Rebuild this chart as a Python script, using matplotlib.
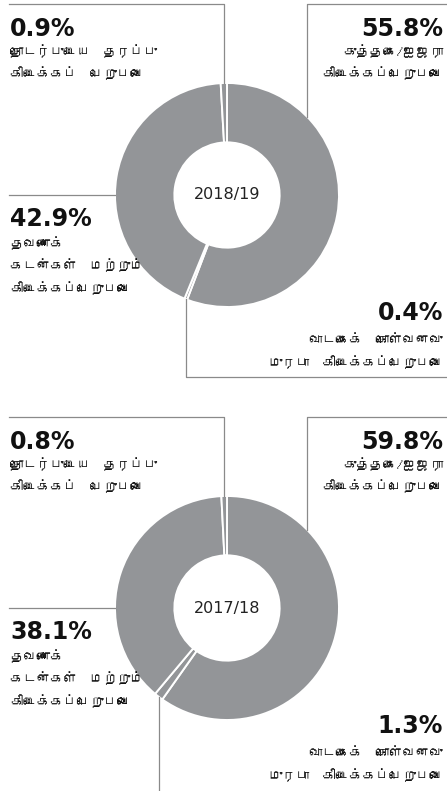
import numpy as np
import matplotlib
matplotlib.use("Agg")
import matplotlib.pyplot as plt
from matplotlib import font_manager
from matplotlib.ft2font import FT2Font

# financing receivables split, two years
years = ["2018/19", "2017/18"]
shares_1819 = [55.8, 0.4, 42.9, 0.9]
shares_1718 = [59.8, 1.3, 38.1, 0.8]
labels = [
    "குத்தகை/ஐஜரா\nகிடைக்கப்பெறுபவை",
    "வாடகைக்  கொள்வனவு\nமுரபா  கிடைக்கப்பெறுபவை",
    "தவணைக்\nகடன்கள்  மற்றும்\nகிடைக்கப்பெறுபவை",
    "தொடர்புடைய  தரப்பு\nகிடைக்கப்  பெறுபவை",
]

# pick any installed face that covers Tamil
tamil_family = None
for f in font_manager.fontManager.ttflist:
    try:
        if 0x0BA4 in FT2Font(f.fname).get_charmap():
            tamil_family = f.name
            break
    except Exception:
        pass
text_family = [tamil_family, "DejaVu Sans"] if tamil_family else ["DejaVu Sans"]

W, H = 447, 791
GREY = "#939598"
LINE = "#8a8a8a"

fig = plt.figure(figsize=(W / 100, H / 100), dpi=100)
ax = fig.add_axes([0, 0, 1, 1])


def Y(y):
    return H - y


def draw_chart(shares, year, dy, bottom_y, bottom_rule):
    cx, cy, r = 227, 195 + dy, 112
    ax.pie(shares, center=(cx, Y(cy)), radius=r, startangle=90,
           counterclock=False, colors=[GREY] * len(shares),
           wedgeprops=dict(width=r * 0.53, edgecolor="white", linewidth=1.4))
    ax.text(cx, Y(cy), year, ha="center", va="center", fontsize=11.5,
            family="DejaVu Sans", color="#222222")

    cum = np.cumsum([0] + shares[:-1])
    mids = np.radians(90 - 3.6 * (cum + np.array(shares) / 2))
    top = 4 + dy
    lw = 0.9

    # big right wedge: rule along the top, drop to the ring
    xr = 307
    yr = cy - np.sqrt(r ** 2 - (xr - cx) ** 2)
    ax.plot([W, xr, xr], [Y(top), Y(top), Y(yr)], color=LINE, lw=lw)
    # small top wedge
    xt = cx + r * np.cos(mids[3])
    yt = cy - r * np.sin(mids[3])
    ax.plot([9, xt, xt], [Y(top), Y(top), Y(yt)], color=LINE, lw=lw)
    # big left wedge
    ax.plot([9, cx - r], [Y(cy), Y(cy)], color=LINE, lw=lw)
    # small bottom wedge
    xb = cx + r * np.cos(mids[1])
    yb = cy - r * np.sin(mids[1])
    if bottom_rule:
        ax.plot([xb, xb, W], [Y(yb), Y(bottom_y), Y(bottom_y)], color=LINE, lw=lw)
    else:
        ax.plot([xb, xb], [Y(yb), Y(bottom_y)], color=LINE, lw=lw)

    # value + caption blocks: (x, baseline, align, first caption line)
    blocks = [
        (443, 36, "right", 51),
        (443, 320, "right", 340),
        (10, 226, "left", 243),
        (10, 36, "left", 51),
    ]
    for (x, base, ha, first), v, lab in zip(blocks, shares, labels):
        ax.text(x, Y(base + dy), f"{v:.1f}%", ha=ha, va="baseline",
                fontsize=17, fontweight="heavy", family="DejaVu Sans",
                color="#111111")
        for k, line in enumerate(lab.split("\n")):
            ax.text(x, Y(first + dy + 22.5 * k), line, ha=ha, va="center",
                    fontsize=9.6, family=text_family, color="#111111")


draw_chart(shares_1819, years[0], 0, 377, True)
draw_chart(shares_1718, years[1], 413, 800, False)

ax.set_xlim(0, W)
ax.set_ylim(0, H)
ax.set_aspect("auto")
ax.axis("off")
fig.savefig("out.png", dpi=100)
